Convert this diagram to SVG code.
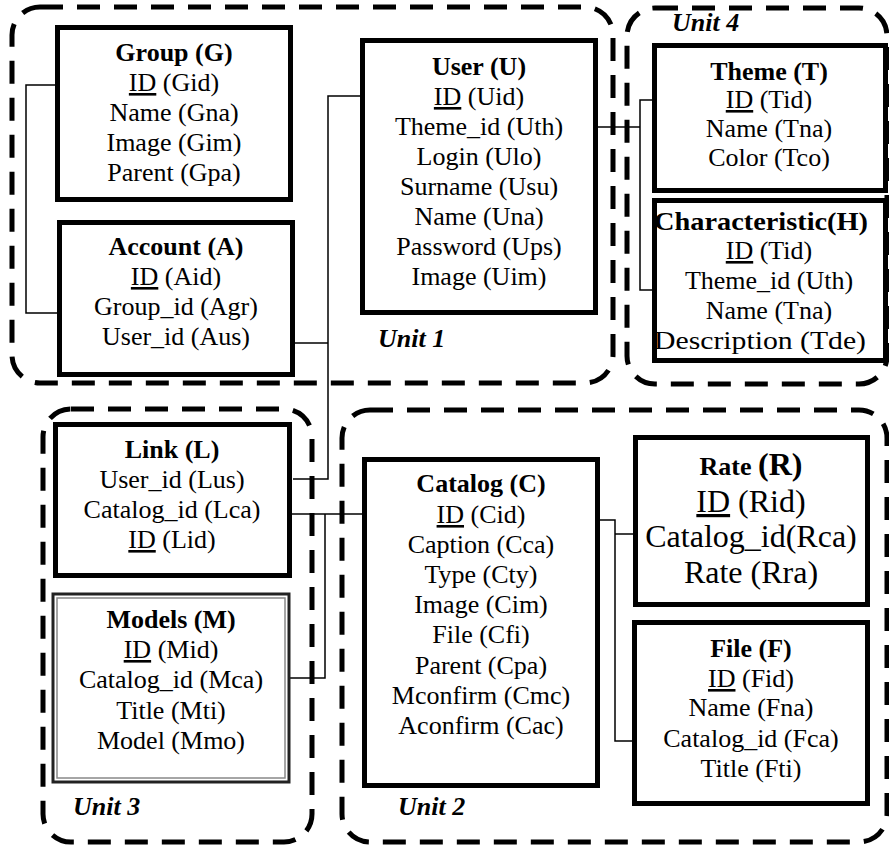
<svg xmlns="http://www.w3.org/2000/svg" width="889" height="845" viewBox="0 0 889 845">
<style>
.unit{fill:none;stroke:#000;stroke-width:5;stroke-dasharray:23 14}
.box{fill:#fff;stroke:#000;stroke-width:5}
.conn{fill:none;stroke:#000;stroke-width:1.5}
text{font-family:"Liberation Serif","Times New Roman",serif;font-size:26px;fill:#000;text-anchor:middle}
.t{font-weight:bold}
.big{font-size:32px}
.lbl{font-weight:bold;font-style:italic;text-anchor:start}
</style>
<rect width="889" height="845" fill="#fff"/>
<g id="units">
<rect class="unit" x="12" y="7" width="601" height="376" rx="28"/>
<rect class="unit" x="627" y="8" width="260" height="376" rx="28"/>
<rect class="unit" x="43" y="409" width="269" height="433" rx="28"/>
<rect class="unit" x="342" y="410" width="545" height="432" rx="28"/>
<text class="lbl" x="378" y="347">Unit 1</text>
<text class="lbl" x="672" y="31">Unit 4</text>
<text class="lbl" x="73" y="815">Unit 3</text>
<text class="lbl" x="398" y="815">Unit 2</text>
</g>
<g id="connectors">
<polyline class="conn" points="57,85 26,85 26,313 59,313"/>
<polyline class="conn" points="362,96 328,96 328,479 293,479"/>
<line class="conn" x1="294" y1="343" x2="328" y2="343"/>
<polyline class="conn" points="598,127 640,127"/>
<polyline class="conn" points="652,100 640,100 640,290 652,290"/>
<line class="conn" x1="292" y1="514" x2="362" y2="514"/>
<polyline class="conn" points="325,514 325,678 290,678"/>
<polyline class="conn" points="600,520 615,520 615,741 632,741"/>
<line class="conn" x1="615" y1="534" x2="633" y2="534"/>
</g>
<g id="group">
<rect class="box" x="57.5" y="27.5" width="233" height="172"/>
<text class="t" x="174" y="61">Group (G)</text>
<text x="174" y="91"><tspan text-decoration="underline">ID</tspan> (Gid)</text>
<text x="174" y="121">Name (Gna)</text>
<text x="174" y="151">Image (Gim)</text>
<text x="174" y="181">Parent (Gpa)</text>
</g>
<g id="account">
<rect class="box" x="59.5" y="222.5" width="233" height="152"/>
<text class="t" x="176" y="255">Account (A)</text>
<text x="176" y="285"><tspan text-decoration="underline">ID</tspan> (Aid)</text>
<text x="176" y="315">Group_id (Agr)</text>
<text x="176" y="345">User_id (Aus)</text>
</g>
<g id="user">
<rect class="box" x="362.5" y="40.5" width="233" height="272"/>
<text class="t" x="479" y="75">User (U)</text>
<text x="479" y="105"><tspan text-decoration="underline">ID</tspan> (Uid)</text>
<text x="479" y="135">Theme_id (Uth)</text>
<text x="479" y="165">Login (Ulo)</text>
<text x="479" y="195">Surname (Usu)</text>
<text x="479" y="225">Name (Una)</text>
<text x="479" y="255">Password (Ups)</text>
<text x="479" y="285">Image (Uim)</text>
</g>
<g id="theme">
<rect class="box" x="654.5" y="45.5" width="231" height="145"/>
<text class="t" x="769" y="80">Theme (T)</text>
<text x="769" y="108"><tspan text-decoration="underline">ID</tspan> (Tid)</text>
<text x="769" y="137">Name (Tna)</text>
<text x="769" y="166">Color (Tco)</text>
</g>
<g id="characteristic">
<rect class="box" x="654.5" y="200.5" width="231" height="160"/>
<text class="t" x="761" y="230" textLength="214" lengthAdjust="spacingAndGlyphs">Characteristic(H)</text>
<text x="769" y="259"><tspan text-decoration="underline">ID</tspan> (Tid)</text>
<text x="769" y="289">Theme_id (Uth)</text>
<text x="769" y="319">Name (Tna)</text>
<text x="760" y="349" textLength="212" lengthAdjust="spacingAndGlyphs">Description (Tde)</text>
</g>
<g id="link">
<rect class="box" x="55.5" y="424.5" width="234" height="151"/>
<text class="t" x="172" y="458">Link (L)</text>
<text x="172" y="488">User_id (Lus)</text>
<text x="172" y="518">Catalog_id (Lca)</text>
<text x="172" y="548"><tspan text-decoration="underline">ID</tspan> (Lid)</text>
</g>
<g id="models">
<rect x="53" y="594" width="236" height="188" fill="#fff" stroke="#222" stroke-width="3"/>
<rect x="57" y="598" width="228" height="180" fill="none" stroke="#888" stroke-width="1.5"/>
<text class="t" x="171" y="628">Models (M)</text>
<text x="171" y="658"><tspan text-decoration="underline">ID</tspan> (Mid)</text>
<text x="171" y="688">Catalog_id (Mca)</text>
<text x="171" y="719">Title (Mti)</text>
<text x="171" y="749">Model (Mmo)</text>
</g>
<g id="catalog">
<rect class="box" x="364.5" y="459.5" width="233" height="326"/>
<text class="t" x="481" y="492">Catalog (C)</text>
<text x="481" y="523"><tspan text-decoration="underline">ID</tspan> (Cid)</text>
<text x="481" y="553">Caption (Cca)</text>
<text x="481" y="583">Type (Cty)</text>
<text x="481" y="613">Image (Cim)</text>
<text x="481" y="643">File (Cfi)</text>
<text x="481" y="674">Parent (Cpa)</text>
<text x="481" y="704">Mconfirm (Cmc)</text>
<text x="481" y="734">Aconfirm (Cac)</text>
</g>
<g id="rate">
<rect class="box" x="635.5" y="437.5" width="232" height="167"/>
<text class="t" x="751" y="475">Rate <tspan class="big">(R)</tspan></text>
<text class="big" x="751" y="512"><tspan text-decoration="underline">ID</tspan> (Rid)</text>
<text class="big" x="751" y="547">Catalog_id(Rca)</text>
<text class="big" x="751" y="583">Rate (Rra)</text>
</g>
<g id="file">
<rect class="box" x="634.5" y="622.5" width="233" height="181"/>
<text class="t" x="751" y="657">File (F)</text>
<text x="751" y="687"><tspan text-decoration="underline">ID</tspan> (Fid)</text>
<text x="751" y="716">Name (Fna)</text>
<text x="751" y="747">Catalog_id (Fca)</text>
<text x="751" y="777">Title (Fti)</text>
</g>
</svg>
